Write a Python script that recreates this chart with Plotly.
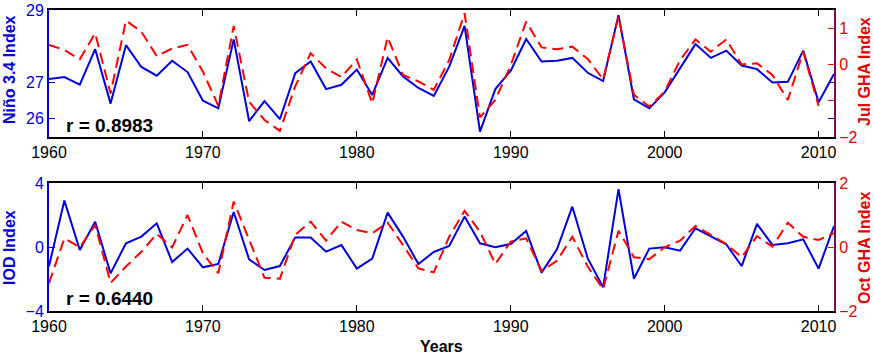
import plotly.graph_objects as go

years = list(range(1960, 2012))

nino34 = [27.10, 27.15, 26.94, 27.92, 26.42, 28.03, 27.43, 27.19, 27.60, 27.29,
          26.50, 26.29, 28.19, 25.94, 26.49, 25.99, 27.26, 27.58, 26.82, 26.94,
          27.36, 26.66, 27.68, 27.17, 26.85, 26.63, 27.44, 28.56, 25.65, 26.82,
          27.33, 28.20, 27.58, 27.60, 27.68, 27.27, 27.04, 28.86, 26.54, 26.29,
          26.73, 27.40, 28.06, 27.68, 27.88, 27.47, 27.37, 27.00, 27.02, 27.88,
          26.46, 27.24]

jul_gha = [0.54, 0.40, 0.14, 0.86, -0.80, 1.21, 0.90, 0.23, 0.44, 0.54,
           -0.20, -1.14, 1.06, -1.03, -1.53, -1.83, -0.60, 0.31, -0.11, -0.35,
           0.14, -1.07, 0.75, -0.29, -0.47, -0.70, 0.12, 1.41, -1.46, -0.98,
           -0.02, 1.18, 0.47, 0.42, 0.49, 0.15, -0.41, 1.32, -0.84, -1.16,
           -0.75, 0.12, 0.69, 0.35, 0.69, 0.00, 0.03, -0.29, -0.98, 0.35,
           -1.14]
jul_years = years[:len(jul_gha)]

iod = [-1.20, 2.90, -0.19, 1.58, -1.65, 0.23, 0.65, 1.48, -0.94, -0.10,
       -1.27, -1.06, 2.19, -0.77, -1.44, -1.19, 0.60, 0.60, -0.29, 0.12,
       -1.35, -0.73, 2.15, 0.65, -1.06, -0.31, 0.06, 1.90, 0.23, -0.02,
       0.19, 1.00, -1.60, -0.15, 2.52, -0.71, -2.52, 3.62, -1.98, -0.10,
       -0.02, -0.23, 1.17, 0.69, 0.17, -1.19, 1.44, 0.13, 0.23, 0.48,
       -1.35, 1.31]

oct_gha = [-1.13, 0.27, -0.01, 0.69, -1.12, -0.61, -0.15, 0.41, -0.01, 1.00,
           -0.20, -0.82, 1.42, 0.22, -0.96, -0.99, 0.38, 0.79, 0.20, 0.79,
           0.53, 0.43, 0.76, 0.06, -0.67, -0.79, 0.32, 1.13, 0.48, -0.53,
           0.17, 0.27, -0.75, -0.43, 0.32, -0.61, -1.32, 0.51, -0.32, -0.38,
           -0.01, 0.20, 0.66, 0.38, 0.09, -0.32, 0.34, 0.01, 0.76, 0.32,
           0.22, 0.43]

xticks = [1960, 1970, 1980, 1990, 2000, 2010]
top_left_ticks = [26, 27, 29]
top_right_ticks = [-2, -1, 0, 1]
top_right_text = ["\u22122", "", "0", "1"]
bot_left_ticks = [-4, 0, 4]
bot_left_text = ["\u22124", "0", "4"]
bot_right_ticks = [-2, 0, 2]
bot_right_text = ["\u22122", "0", "2"]

BLUE = "#0000dd"
RED = "#ff0000"
RED_TXT = "#e00000"
PURPLE = "#7a0a5a"
FONT = "Liberation Sans, Arial, sans-serif"

W, H = 874, 354
x0, x1 = 49 / W, 834 / W
top_dom = [1 - 137 / H, 1 - 10 / H]
bot_dom = [1 - 311 / H, 1 - 183 / H]

fig = go.Figure()
fig.add_trace(go.Scatter(x=years, y=nino34, mode="lines", line=dict(color=BLUE, width=2),
                         xaxis="x", yaxis="y", showlegend=False))
fig.add_trace(go.Scatter(x=jul_years, y=jul_gha, mode="lines",
                         line=dict(color=RED, width=2, dash="11px,6px"),
                         xaxis="x", yaxis="y2", showlegend=False))
fig.add_trace(go.Scatter(x=years, y=iod, mode="lines", line=dict(color=BLUE, width=2),
                         xaxis="x2", yaxis="y3", showlegend=False))
fig.add_trace(go.Scatter(x=years, y=oct_gha, mode="lines",
                         line=dict(color=RED, width=2, dash="11px,6px"),
                         xaxis="x2", yaxis="y4", showlegend=False))

xcommon = dict(range=[1960, 2011], tickvals=xticks, ticks="inside", ticklen=6,
               tickcolor="black", showline=True, linecolor="black", linewidth=1.5,
               mirror="ticks", showgrid=False, zeroline=False,
               tickfont=dict(family=FONT, size=16, color="black"),
               domain=[x0, x1], automargin=False)

fig.update_layout(
    width=W, height=H,
    margin=dict(l=0, r=0, t=0, b=0),
    paper_bgcolor="white", plot_bgcolor="white",
    xaxis=dict(anchor="y", **xcommon),
    xaxis2=dict(anchor="y3", **xcommon),
    yaxis=dict(domain=top_dom, range=[25.5, 29], tickvals=top_left_ticks,
               ticks="inside", ticklen=6, tickcolor=BLUE, showline=True,
               linecolor=BLUE, linewidth=2, mirror="ticks", showgrid=False,
               zeroline=False, tickfont=dict(family=FONT, size=16, color=BLUE),
               anchor="x", automargin=False),
    yaxis2=dict(range=[-2, 1.5], tickvals=top_right_ticks, ticktext=top_right_text,
                overlaying="y", side="right", anchor="x",
                ticks="inside", ticklen=6, tickcolor=RED, showline=True,
                linecolor=PURPLE, linewidth=2, showgrid=False, zeroline=False,
                tickfont=dict(family=FONT, size=16, color=RED_TXT), automargin=False),
    yaxis3=dict(domain=bot_dom, range=[-4, 4], tickvals=bot_left_ticks,
                ticktext=bot_left_text,
                ticks="inside", ticklen=6, tickcolor=BLUE, showline=True,
                linecolor=BLUE, linewidth=2, mirror="ticks", showgrid=False,
                zeroline=False, tickfont=dict(family=FONT, size=16, color=BLUE),
                anchor="x2", automargin=False),
    yaxis4=dict(range=[-2, 2], tickvals=bot_right_ticks, ticktext=bot_right_text,
                overlaying="y3", side="right", anchor="x2",
                ticks="inside", ticklen=6, tickcolor=RED, showline=True,
                linecolor=PURPLE, linewidth=2, showgrid=False, zeroline=False,
                tickfont=dict(family=FONT, size=16, color=RED_TXT), automargin=False),
    annotations=[
        dict(text="<b>Niño 3.4 Index</b>", x=9 / W, y=1 - 70 / H, xref="paper", yref="paper",
             textangle=-90, showarrow=False, font=dict(family=FONT, size=16, color=BLUE),
             xanchor="center", yanchor="middle"),
        dict(text="<b>Jul GHA Index</b>", x=864 / W, y=1 - 72 / H, xref="paper", yref="paper",
             textangle=-90, showarrow=False, font=dict(family=FONT, size=16, color=RED_TXT),
             xanchor="center", yanchor="middle"),
        dict(text="<b>IOD Index</b>", x=9 / W, y=1 - 248 / H, xref="paper", yref="paper",
             textangle=-90, showarrow=False, font=dict(family=FONT, size=16, color=BLUE),
             xanchor="center", yanchor="middle"),
        dict(text="<b>Oct GHA Index</b>", x=864 / W, y=1 - 248 / H, xref="paper", yref="paper",
             textangle=-90, showarrow=False, font=dict(family=FONT, size=16, color=RED_TXT),
             xanchor="center", yanchor="middle"),
        dict(text="<b>Years</b>", x=441 / W, y=1 - 346 / H, xref="paper", yref="paper",
             showarrow=False, font=dict(family=FONT, size=16, color="black"),
             xanchor="center", yanchor="middle"),
        dict(text="<b>r = 0.8983</b>", x=64 / W, y=1 - 126 / H, xref="paper", yref="paper",
             showarrow=False, font=dict(family=FONT, size=19, color="black"),
             xanchor="left", yanchor="middle"),
        dict(text="<b>r = 0.6440</b>", x=64 / W, y=1 - 298 / H, xref="paper", yref="paper",
             showarrow=False, font=dict(family=FONT, size=19, color="black"),
             xanchor="left", yanchor="middle"),
    ],
)

fig.write_html("out.html")
